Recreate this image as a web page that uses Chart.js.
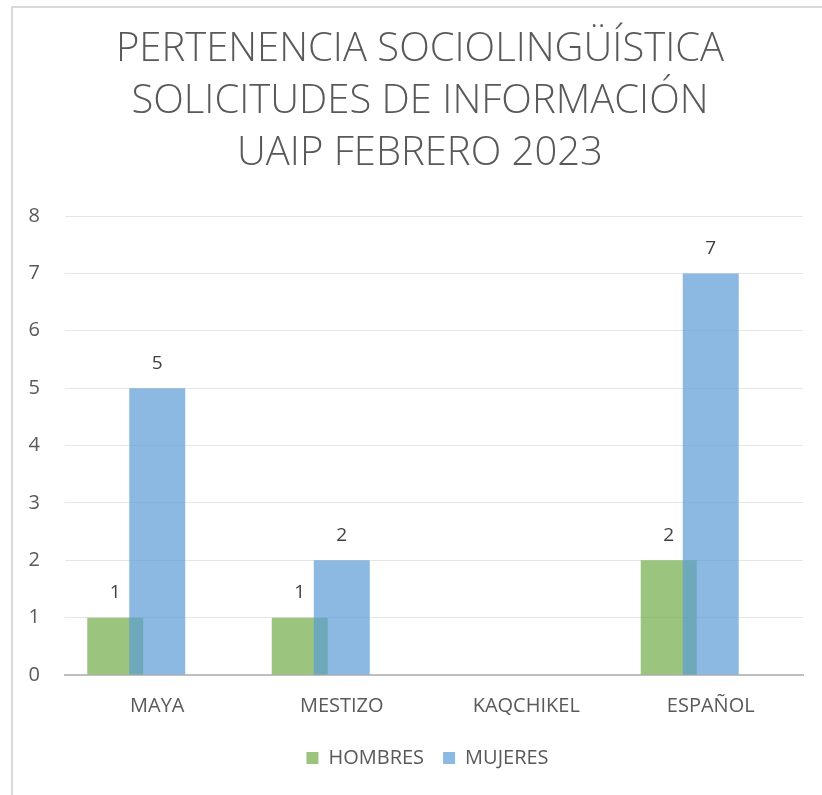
<!DOCTYPE html>
<html>
<head>
<meta charset="utf-8">
<script src="https://cdn.jsdelivr.net/npm/chart.js@4/dist/chart.umd.min.js"></script>
<style>
  html, body { margin: 0; padding: 0; background: #fff; }
  #wrap { position: relative; width: 822px; height: 795px; }
</style>
</head>
<body>
<div id="wrap"><canvas id="c" width="822" height="795"></canvas></div>
<script>
const categories = ['MAYA', 'MESTIZO', 'KAQCHIKEL', 'ESPAÑOL'];
const hombres = [1, 1, null, 2];
const mujeres = [5, 2, null, 7];
const yTicks = [0, 1, 2, 3, 4, 5, 6, 7, 8];
const titleLines = ['PERTENENCIA SOCIOLINGÜÍSTICA', 'SOLICITUDES DE INFORMACIÓN', 'UAIP FEBRERO 2023'];

const FONT = "'Open Sans', 'DejaVu Sans', sans-serif";

const frame = {
  id: 'frame',
  beforeDraw(chart) {
    const ctx = chart.ctx;
    ctx.save();
    ctx.fillStyle = '#ffffff';
    ctx.fillRect(0, 0, chart.width, chart.height);
    ctx.strokeStyle = '#d9d9d9';
    ctx.lineWidth = 2;
    ctx.beginPath();
    ctx.moveTo(12, chart.height + 5);
    ctx.lineTo(12, 7);
    ctx.lineTo(chart.width + 5, 7);
    ctx.stroke();
    ctx.restore();
  }
};

// shift the title and legend blocks horizontally to the reference's centring
const blockShift = {
  id: 'blockShift',
  afterLayout(chart) {
    if (chart.titleBlock) { chart.titleBlock.left += 18.5; chart.titleBlock.right += 18.5; }
    if (chart.legend) { chart.legend.left += 26; chart.legend.right += 26; }
  }
};

const valueLabels = {
  id: 'valueLabels',
  afterDatasetsDraw(chart) {
    const ctx = chart.ctx;
    ctx.save();
    ctx.font = '19px ' + FONT;
    ctx.fillStyle = '#404040';
    ctx.textAlign = 'center';
    ctx.textBaseline = 'middle';
    chart.data.datasets.forEach((ds, di) => {
      if (ds.isDummy) return;
      const meta = chart.getDatasetMeta(di);
      meta.data.forEach((el, i) => {
        const v = ds.data[i];
        if (v === null || v === undefined) return;
        ctx.fillText(String(v), el.x, el.y - 25);
      });
    });
    ctx.restore();
  }
};

new Chart(document.getElementById('c'), {
  type: 'bar',
  data: {
    labels: categories,
    datasets: [
      {
        label: 'MUJERES',
        data: mujeres,
        grouped: false,
        backgroundColor: 'rgba(91,155,213,0.7)',
        borderWidth: 0,
        categoryPercentage: 1,
        barPercentage: 56 / 184.5
      },
      {
        label: 'HOMBRES',
        data: hombres,
        backgroundColor: 'rgba(112,173,71,0.7)',
        borderWidth: 0,
        categoryPercentage: 168 / 184.5,
        barPercentage: 56 / 84
      },
      {
        label: '',
        isDummy: true,
        data: [null, null, null, null],
        backgroundColor: 'rgba(0,0,0,0)',
        borderWidth: 0,
        categoryPercentage: 168 / 184.5,
        barPercentage: 56 / 84
      }
    ]
  },
  options: {
    responsive: false,
    animation: false,
    layout: { padding: { left: 0, right: 19, top: 0, bottom: 17 } },
    scales: {
      x: {
        type: 'category',
        offset: true,
        grid: { display: false },
        border: { display: true, color: '#bfbfbf', width: 2 },
        ticks: { color: '#595959', font: { family: FONT, size: 20 }, padding: 11 }
      },
      y: {
        min: 0,
        max: 8,
        afterFit(scale) { scale.width = 65; },
        afterBuildTicks(scale) { scale.ticks = yTicks.map(v => ({ value: v })); },
        grid: { color: '#e6e6e6', lineWidth: 1, drawTicks: false },
        border: { display: false },
        ticks: { color: '#595959', font: { family: FONT, size: 20 }, padding: 25 }
      }
    },
    plugins: {
      title: {
        display: true,
        text: titleLines,
        color: '#595959',
        font: { family: FONT, size: 40, weight: '300', lineHeight: 1.3 },
        padding: { top: 24, bottom: 36 }
      },
      legend: {
        position: 'bottom',
        labels: {
          color: '#595959',
          font: { family: FONT, size: 20 },
          boxWidth: 12,
          boxHeight: 12,
          padding: 19,
          filter: (item, data) => !data.datasets[item.datasetIndex].isDummy,
          sort: (a, b) => b.datasetIndex - a.datasetIndex
        }
      },
      tooltip: { enabled: false }
    }
  },
  plugins: [frame, blockShift, valueLabels]
});
</script>
</body>
</html>
